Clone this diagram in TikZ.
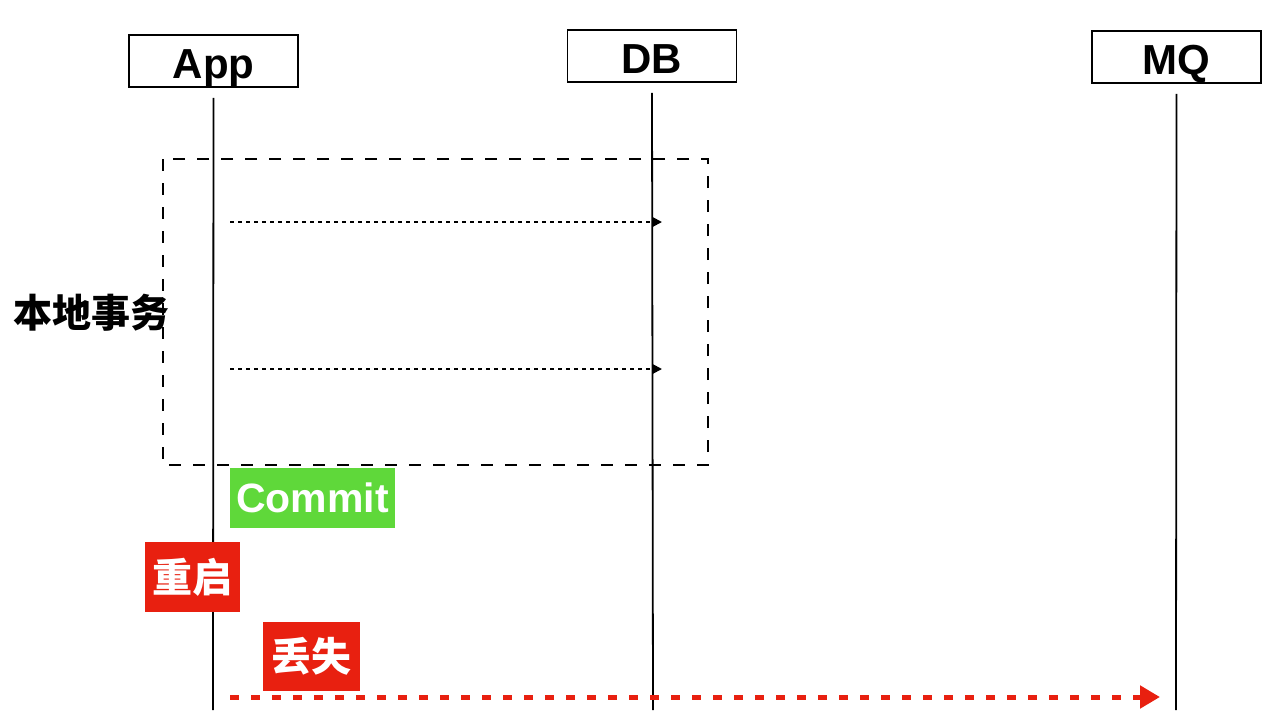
\documentclass[tikz,border=0pt]{standalone}
\usepackage{fontspec}
\setmainfont{Liberation Sans}
\newfontfamily\cjk{Noto Sans CJK SC}
\usetikzlibrary{arrows.meta}

\begin{document}
\begin{tikzpicture}[x=1pt,y=-1pt,
    actor/.style={draw,line width=1.8pt,minimum width=169pt,minimum height=52pt,inner sep=0pt,
                  text height=34pt,text depth=0pt,font=\fontsize{42}{48}\selectfont\bfseries},
    lifeline/.style={line width=1.8pt},
    call/.style={line width=1.8pt,dash pattern=on 4pt off 4pt,-{Triangle[length=9pt,width=9pt]}},
    tag/.style={inner sep=0pt,text=white,font=\fontsize{40}{48}\selectfont\cjk\bfseries}]
  \useasboundingbox (0,0) rectangle (1286,710);
  % participants
  \node[actor] (app) at (213.5,61) {App};
  \node[actor] (db) at (652,56) {DB};
  \node[actor] (mq) at (1176.5,57) {MQ};
  \draw[lifeline] ([yshift=-10pt]app.south) -- (213,710) coordinate (append);
  \draw[lifeline] ([yshift=-10pt]db.south) -- (653,710) coordinate (dbend);
  \draw[lifeline] ([yshift=-10pt]mq.south) -- (1176,710) coordinate (mqend);
  % local transaction
  \draw[line width=1.8pt,dash pattern=on 12pt off 12pt] (163,159) rectangle (708,465);
  \node[font=\fontsize{39}{44}\selectfont\cjk\bfseries] (local) at (91,313) {本地事务};
  \coordinate (w1) at (230,222); \coordinate (d1) at (662,222);
  \coordinate (w2) at (230,369); \coordinate (d2) at (662,369);
  \draw[call] (w1) -- (d1);
  \draw[call] (w2) -- (d2);
  % commit, restart, lost
  \node[tag,fill={rgb,255:red,95;green,216;blue,58},minimum width=165pt,minimum height=60pt,
        font=\fontsize{41}{48}\selectfont\bfseries] (commit) at (312.5,498) {Commit};
  \node[tag,fill={rgb,255:red,232;green,32;blue,16},minimum width=95pt,minimum height=70pt] (restart) at (192.5,577) {重启};
  \node[tag,fill={rgb,255:red,232;green,32;blue,16},minimum width=97pt,minimum height=69pt] (lost) at (311.5,656.5) {丢失};
  \coordinate (m1) at (230,697); \coordinate (q1) at (1160,697);
  \draw[line width=5pt,dash pattern=on 9pt off 12pt,draw={rgb,255:red,232;green,32;blue,16},
        -{Triangle[length=20pt,width=22pt,fill={rgb,255:red,232;green,32;blue,16}]}] (m1) -- (q1);
\end{tikzpicture}
\end{document}
